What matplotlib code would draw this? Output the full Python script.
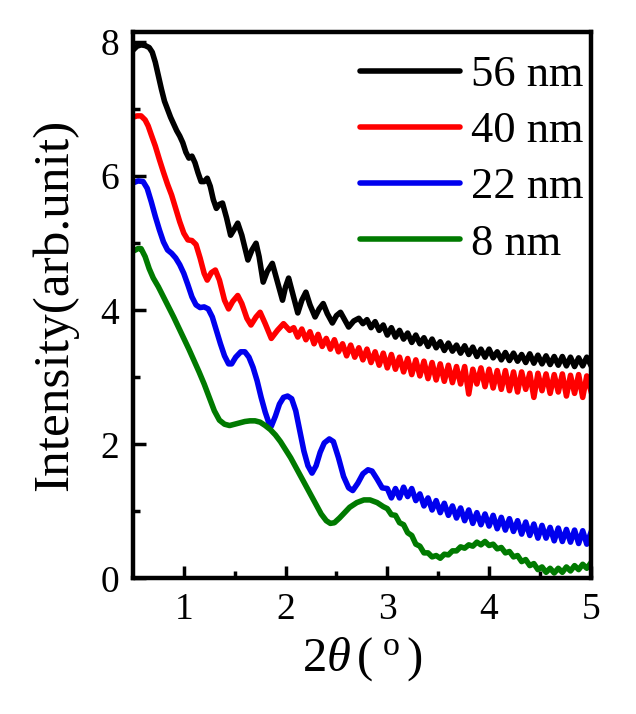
import numpy as np
import matplotlib
matplotlib.use('Agg')
import matplotlib.pyplot as plt

# XRR curves (2theta in deg, intensity in arb. unit)
labels = ['56 nm', '40 nm', '22 nm', '8 nm']
colors = ['#000000', '#ff0000', '#0000ee', '#007a00']

# 56 nm: smooth head, then noisy tail from 2.80 (step 0.04)
x56 = [0.50, 0.54, 0.58, 0.62, 0.66, 0.69, 0.72, 0.75, 0.78, 0.81, 0.84, 0.87, 0.90, 0.93,
       0.96, 0.99, 1.02, 1.05, 1.08, 1.11, 1.14, 1.17, 1.20, 1.23, 1.26, 1.29, 1.32, 1.35,
       1.38, 1.42, 1.46, 1.50, 1.53, 1.57, 1.63, 1.67, 1.71, 1.74, 1.78, 1.82, 1.87, 1.91,
       1.97, 2.00, 2.03, 2.07, 2.12, 2.16, 2.20, 2.24, 2.29, 2.33, 2.37, 2.41, 2.46, 2.50,
       2.54, 2.58, 2.62, 2.67, 2.72, 2.76]
y56 = [7.88, 7.94, 7.96, 7.95, 7.92, 7.85, 7.70, 7.50, 7.30, 7.12, 7.00, 6.88, 6.78, 6.68,
       6.60, 6.50, 6.36, 6.27, 6.30, 6.20, 6.05, 5.92, 5.92, 5.97, 5.85, 5.65, 5.52, 5.58,
       5.60, 5.38, 5.12, 5.22, 5.30, 5.12, 4.75, 4.90, 5.00, 4.80, 4.42, 4.58, 4.70, 4.48,
       4.15, 4.35, 4.48, 4.25, 3.96, 4.15, 4.27, 4.08, 3.90, 4.02, 4.10, 3.95, 3.81, 3.92,
       3.97, 3.86, 3.75, 3.84, 3.88, 3.80]
y56_tail = [3.86, 3.74, 3.83, 3.70, 3.78, 3.63, 3.74, 3.60, 3.70, 3.57,
            3.66, 3.52, 3.63, 3.50, 3.59, 3.46, 3.57, 3.44, 3.53, 3.40,
            3.51, 3.39, 3.48, 3.36, 3.47, 3.34, 3.45, 3.31, 3.42, 3.30,
            3.42, 3.29, 3.38, 3.26, 3.37, 3.25, 3.36, 3.24, 3.34, 3.22,
            3.35, 3.21, 3.33, 3.20, 3.32, 3.19, 3.31, 3.18, 3.31, 3.17,
            3.30, 3.16, 3.29, 3.17, 3.30, 3.18]

# 40 nm: head, then noisy tail from 2.08
x40 = [0.50, 0.54, 0.58, 0.62, 0.65, 0.68, 0.72, 0.76, 0.80, 0.84, 0.88, 0.92, 0.96, 1.00,
       1.04, 1.08, 1.12, 1.16, 1.20, 1.23, 1.27, 1.31, 1.35, 1.40, 1.44, 1.48, 1.53, 1.57,
       1.62, 1.66, 1.71, 1.75, 1.80, 1.86, 1.92, 1.98, 2.04]
y40 = [6.88, 6.90, 6.90, 6.84, 6.75, 6.62, 6.45, 6.25, 6.06, 5.88, 5.72, 5.52, 5.32, 5.15,
       5.05, 5.04, 4.98, 4.78, 4.55, 4.45, 4.56, 4.60, 4.45, 4.15, 4.02, 4.13, 4.22, 4.10,
       3.88, 3.78, 3.90, 3.97, 3.80, 3.58, 3.70, 3.80, 3.70]
y40_tail = [3.74, 3.60, 3.72, 3.56, 3.68, 3.50, 3.64, 3.46, 3.58, 3.42,
            3.56, 3.38, 3.50, 3.32, 3.48, 3.30, 3.44, 3.26, 3.42, 3.22,
            3.38, 3.18, 3.36, 3.14, 3.34, 3.12, 3.30, 3.08, 3.28, 3.04,
            3.26, 3.02, 3.24, 2.98, 3.22, 2.96, 3.20, 2.94, 3.18, 2.92,
            3.16, 2.90, 3.16, 2.75, 3.12, 2.90, 3.14, 2.86, 3.12, 2.84,
            3.10, 2.82, 3.10, 2.80, 3.08, 2.78, 3.08, 2.82, 3.06, 2.70,
            3.06, 2.80, 3.05, 2.76, 3.04, 2.78, 3.05, 2.72, 3.03, 2.76,
            3.04, 2.70, 3.02, 2.80]

# 22 nm
x22 = [0.50, 0.55, 0.60, 0.64, 0.68, 0.72, 0.76, 0.80, 0.84, 0.88, 0.92, 0.96, 1.00, 1.04,
       1.08, 1.12, 1.16, 1.20, 1.24, 1.28, 1.32, 1.36, 1.40, 1.44, 1.47, 1.51, 1.56, 1.60,
       1.64, 1.68, 1.72, 1.76, 1.80, 1.84, 1.86, 1.90, 1.94, 1.98, 2.02, 2.06, 2.10, 2.14,
       2.18, 2.22, 2.26, 2.30, 2.34, 2.38, 2.43, 2.47, 2.52, 2.57, 2.62, 2.66, 2.71, 2.76,
       2.81, 2.85, 2.90, 2.95]
y22 = [5.90, 5.93, 5.92, 5.82, 5.62, 5.40, 5.20, 5.02, 4.90, 4.85, 4.78, 4.68, 4.55, 4.38,
       4.20, 4.08, 4.04, 4.05, 4.02, 3.90, 3.70, 3.50, 3.32, 3.20, 3.20, 3.30, 3.38, 3.38,
       3.30, 3.15, 2.95, 2.70, 2.48, 2.30, 2.27, 2.42, 2.60, 2.70, 2.72, 2.68, 2.50, 2.20,
       1.90, 1.68, 1.57, 1.68, 1.88, 2.02, 2.08, 2.04, 1.80, 1.52, 1.35, 1.31, 1.42, 1.56,
       1.62, 1.60, 1.48, 1.35]
y22_tail = [1.34, 1.20, 1.34, 1.20, 1.36, 1.22, 1.34, 1.16, 1.26, 1.08,
            1.20, 1.02, 1.16, 0.98, 1.12, 0.94, 1.08, 0.90, 1.05, 0.86,
            1.02, 0.82, 0.98, 0.80, 0.96, 0.78, 0.94, 0.74, 0.91, 0.72,
            0.89, 0.70, 0.86, 0.66, 0.84, 0.64, 0.81, 0.60, 0.79, 0.60,
            0.76, 0.56, 0.75, 0.55, 0.73, 0.54, 0.72, 0.52, 0.71, 0.51,
            0.68]

# 8 nm
x8 = [0.50, 0.55, 0.58, 0.62, 0.66, 0.70, 0.75, 0.80, 0.85, 0.90, 0.95, 1.00, 1.05, 1.10,
      1.15, 1.20, 1.25, 1.30, 1.35, 1.40, 1.45, 1.50, 1.55, 1.60, 1.65, 1.70, 1.75, 1.80,
      1.85, 1.90, 1.95, 2.00, 2.05, 2.10, 2.15, 2.20, 2.25, 2.30, 2.35, 2.40, 2.44, 2.48,
      2.53, 2.58, 2.63, 2.70, 2.77, 2.83, 2.90, 2.96]
y8 = [4.88, 4.92, 4.92, 4.80, 4.62, 4.48, 4.35, 4.20, 4.05, 3.90, 3.74, 3.58, 3.42, 3.25,
      3.08, 2.90, 2.70, 2.50, 2.36, 2.30, 2.28, 2.30, 2.32, 2.34, 2.35, 2.35, 2.33, 2.28,
      2.22, 2.14, 2.04, 1.92, 1.80, 1.66, 1.52, 1.38, 1.24, 1.10, 0.96, 0.86, 0.82, 0.83,
      0.90, 0.98, 1.06, 1.13, 1.17, 1.17, 1.13, 1.07]
y8_tail = [1.04, 0.95, 0.94, 0.83, 0.80, 0.68, 0.64, 0.51, 0.48, 0.38,
           0.38, 0.32, 0.34, 0.30, 0.36, 0.35, 0.41, 0.41, 0.47, 0.45,
           0.50, 0.48, 0.54, 0.50, 0.55, 0.49, 0.51, 0.44, 0.46, 0.38,
           0.40, 0.32, 0.34, 0.25, 0.28, 0.19, 0.22, 0.13, 0.17, 0.09,
           0.15, 0.08, 0.15, 0.09, 0.17, 0.11, 0.19, 0.13, 0.21, 0.15,
           0.23]

tail_start = [2.80, 2.08, 3.00, 3.00]
tail_step = 0.04


def join(xh, yh, yt, x0):
    # head points + tail sampled on the scan grid
    xt = x0 + tail_step * np.arange(len(yt))
    return np.concatenate([xh, xt]), np.concatenate([yh, yt])


def main():
    plt.rcParams['font.family'] = ['Liberation Serif', 'DejaVu Serif']
    plt.rcParams['mathtext.fontset'] = 'custom'
    plt.rcParams['mathtext.rm'] = 'Liberation Serif'
    plt.rcParams['mathtext.it'] = 'Liberation Serif:italic'

    fig = plt.figure(figsize=(6.36, 7.14), dpi=100)
    ax = fig.add_axes([0.209, 0.190, 0.720, 0.765])

    curves = [join(x56, y56, y56_tail, tail_start[0]),
              join(x40, y40, y40_tail, tail_start[1]),
              join(x22, y22, y22_tail, tail_start[2]),
              join(x8, y8, y8_tail, tail_start[3])]
    for (x, y), c, lab in zip(curves, colors, labels):
        ax.plot(x, y, color=c, lw=4.0, label=lab, solid_joinstyle='round')

    ax.set_xlim(0.5, 5)
    ax.set_ylim(0, 8.15)
    ax.set_xticks([1, 2, 3, 4, 5])
    ax.set_xticks([1.5, 2.5, 3.5, 4.5], minor=True)
    ax.set_yticks([0, 2, 4, 6, 8])
    ax.set_yticks([1, 3, 5, 7], minor=True)
    ax.tick_params(which='both', direction='in', top=False, right=False,
                   labelsize=27, width=2.5)
    ax.tick_params(which='major', length=9, pad=10)
    ax.tick_params(which='minor', length=5)
    for s in ax.spines.values():
        s.set_linewidth(3.2)

    ax.set_xlabel(r'$2\theta\,(\;^{\mathrm{o}}\,)$', fontsize=35, labelpad=6)
    ax.set_ylabel('Intensity(arb.unit)', fontsize=37, labelpad=16)

    leg = ax.legend(loc='upper right', bbox_to_anchor=(0.985, 0.958), frameon=False,
                    fontsize=32, handlelength=2.25, handletextpad=0.25,
                    labelspacing=0.36, borderpad=0, borderaxespad=0)
    for h in leg.get_lines():
        h.set_linewidth(4.0)
        h.set_solid_capstyle('round')

    fig.savefig('out.png', dpi=100)


main()
